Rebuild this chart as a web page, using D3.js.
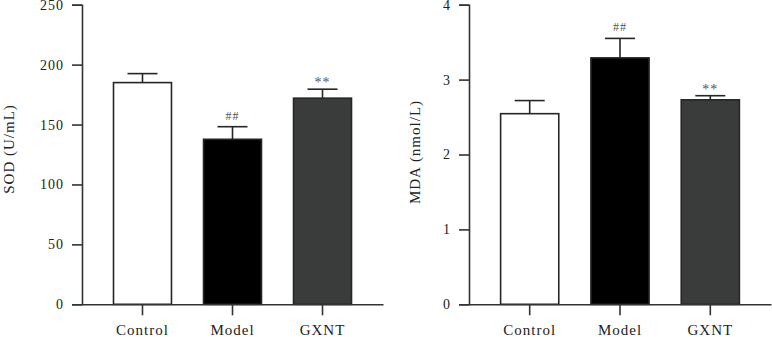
<!DOCTYPE html>
<html>
<head>
<meta charset="utf-8">
<script src="https://cdn.jsdelivr.net/npm/d3@7"></script>
<style>
  body { margin: 0; background: #fff; }
  svg text { font-family: "Liberation Serif", "DejaVu Serif", serif; fill: #222; }
</style>
</head>
<body>
<div id="chart"></div>
<script>
const groups = ["Control", "Model", "GXNT"];
const barColors = ["#ffffff", "#000000", "#3a3c3b"];

const sodMean = [185, 137.7, 172];
const sodErr = [7.5, 10.5, 7.5];
const sodMarks = ["", "##", "**"];
const sodTicks = [0, 50, 100, 150, 200, 250];

const mdaMean = [2.545, 3.29, 2.73];
const mdaErr = [0.175, 0.26, 0.055];
const mdaMarks = ["", "##", "**"];
const mdaTicks = [0, 1, 2, 3, 4];

const width = 772;
const height = 337;

const svg = d3.select("#chart")
  .append("svg")
  .attr("width", width)
  .attr("height", height);

// one panel: axis left at x0, axis right at x1
function drawPanel(x0, x1, means, errs, marks, ticks, yMax, label, labelX, labelY) {
  const top = 4.7, bottom = 304.3;

  const xScale = d3.scaleBand()
    .domain(groups)
    .range([x0, x1])
    .paddingInner(0.356)
    .paddingOuter(0.35);

  const yScale = d3.scaleLinear()
    .domain([0, yMax])
    .range([bottom, top]);

  const g = svg.append("g");

  // bars
  g.selectAll("rect.bar")
    .data(groups)
    .join("rect")
    .attr("class", "bar")
    .attr("x", d => xScale(d))
    .attr("y", (d, i) => yScale(means[i]))
    .attr("width", xScale.bandwidth())
    .attr("height", (d, i) => yScale(0) - yScale(means[i]))
    .attr("fill", (d, i) => barColors[i])
    .attr("stroke", "#262626")
    .attr("stroke-width", 1.6);

  // error bars (upper only)
  const cap = 15;
  groups.forEach(function (grp, i) {
    const cx = xScale(grp) + xScale.bandwidth() / 2;
    const yTop = yScale(means[i] + errs[i]);
    g.append("line")
      .attr("x1", cx).attr("x2", cx)
      .attr("y1", yScale(means[i])).attr("y2", yTop)
      .attr("stroke", "#262626").attr("stroke-width", 1.6);
    g.append("line")
      .attr("x1", cx - cap).attr("x2", cx + cap)
      .attr("y1", yTop).attr("y2", yTop)
      .attr("stroke", "#262626").attr("stroke-width", 1.6);
    if (marks[i]) {
      const star = marks[i] == "**";
      g.append("text")
        .attr("x", cx)
        .attr("y", yTop - (star ? 2 : 7))
        .attr("text-anchor", "middle")
        .attr("font-size", star ? "14px" : "12px")
        .attr("letter-spacing", "1px")
        .style("fill", "#555")
        .text(marks[i]);
    }
  });

  // y axis
  const yAxis = g.append("g")
    .attr("transform", "translate(" + x0 + ",0)")
    .call(d3.axisLeft(yScale).tickValues(ticks).tickSize(10).tickPadding(8).tickFormat(d3.format("d")));
  yAxis.selectAll("text")
    .attr("font-size", "14px")
    .attr("letter-spacing", "1px");

  // x axis
  const xAxis = g.append("g")
    .attr("transform", "translate(0," + bottom + ")")
    .call(d3.axisBottom(xScale).tickSize(11).tickSizeOuter(0));
  xAxis.selectAll("text")
    .attr("font-size", "15px")
    .attr("letter-spacing", "1px")
    .attr("y", 31)
    .attr("dy", 0);

  g.selectAll(".domain, .tick line")
    .attr("stroke", "#333")
    .attr("stroke-width", 1.6);

  // axis title
  g.append("text")
    .attr("transform", "translate(" + labelX + "," + labelY + ") rotate(-90)")
    .attr("text-anchor", "middle")
    .attr("dominant-baseline", "central")
    .attr("font-size", "15px")
    .attr("letter-spacing", "1px")
    .text(label);
}

drawPanel(82, 383, sodMean, sodErr, sodMarks, sodTicks, 250, "SOD (U/mL)", 9, 149);
drawPanel(469, 771, mdaMean, mdaErr, mdaMarks, mdaTicks, 4, "MDA (nmol/L)", 415, 152);
</script>
</body>
</html>
